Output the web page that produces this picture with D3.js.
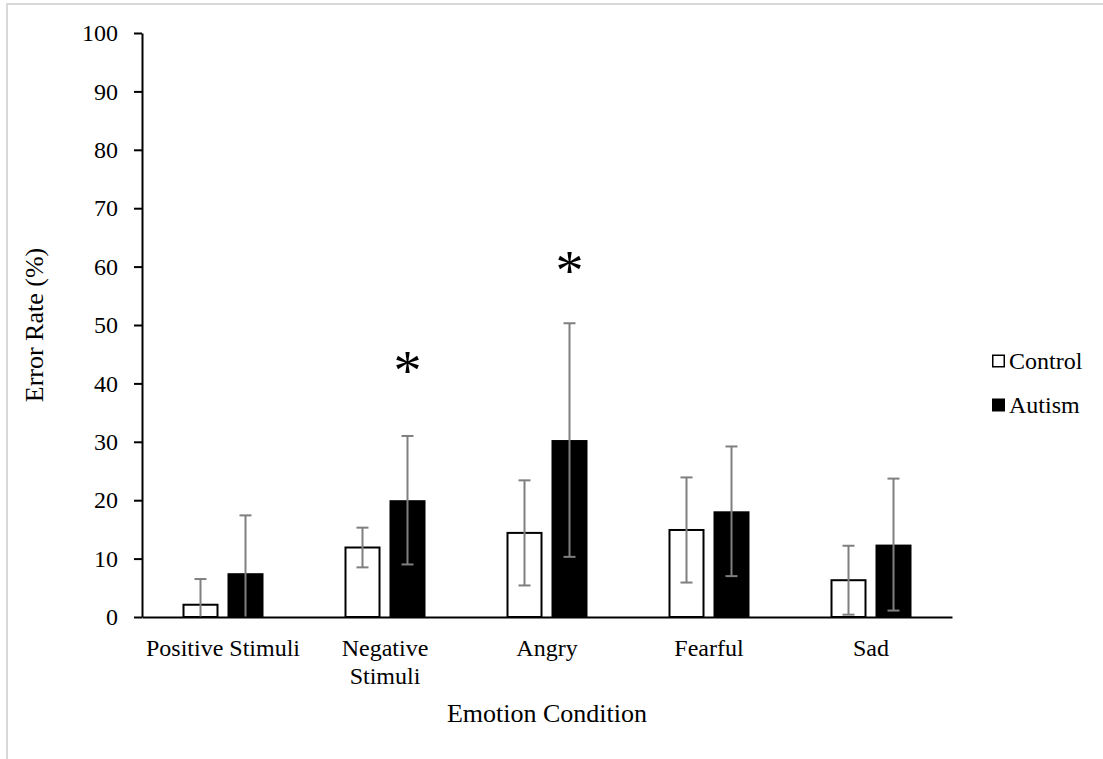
<!DOCTYPE html>
<html>
<head>
<meta charset="utf-8">
<script src="https://cdn.jsdelivr.net/npm/d3@7"></script>
<style>
  html, body { margin: 0; padding: 0; background: #fff; }
  svg { display: block; }
  text { font-family: "Liberation Serif", "Times New Roman", serif; fill: #000; }
</style>
</head>
<body>
<svg id="chart" width="1103" height="759"></svg>
<script>
const categories = ["Positive Stimuli", "Negative Stimuli", "Angry", "Fearful", "Sad"];
const categoryLines = [["Positive Stimuli"], ["Negative", "Stimuli"], ["Angry"], ["Fearful"], ["Sad"]];
const groups = ["Control", "Autism"];
const controlMeans = [2.1, 11.9, 14.4, 14.9, 6.3];
const controlSD = [4.4, 3.4, 9.0, 9.0, 5.9];
const autismMeans = [7.5, 20.0, 30.3, 18.1, 12.4];
const autismSD = [9.9, 11.0, 20.0, 11.1, 11.3];
const yTicks = [0, 10, 20, 30, 40, 50, 60, 70, 80, 90, 100];
const significance = [
  { category: "Negative Stimuli", group: "Autism", value: 43.2 },
  { category: "Angry", group: "Autism", value: 60.3 }
];

(function () {
const svg = d3.select("#chart");

// outer frame
svg.append("rect")
  .attr("x", 7).attr("y", 4).attr("width", 1200).attr("height", 900)
  .attr("fill", "none").attr("stroke", "#d9d9d9").attr("stroke-width", 2);

const pLeft = 142, pRight = 952, pTop = 33, pBottom = 617;

const x = d3.scaleBand().domain(categories).range([pLeft, pRight]).padding(0);
const xSub = d3.scaleBand().domain(groups).range([-45, 45]).paddingInner(0.2).paddingOuter(0.1);
const y = d3.scaleLinear().domain([0, 100]).range([pBottom, pTop]);

const series = {
  Control: categories.map((c, i) => ({ category: c, group: "Control", mean: controlMeans[i], sd: controlSD[i] })),
  Autism: categories.map((c, i) => ({ category: c, group: "Autism", mean: autismMeans[i], sd: autismSD[i] }))
};
const all = series.Control.concat(series.Autism);

// bars
const bx = d => x(d.category) + x.bandwidth() / 2 + xSub(d.group);
svg.append("g").selectAll("rect").data(all).join("rect")
  .attr("x", d => bx(d) + (d.group === "Control" ? 1 : 0))
  .attr("y", d => y(d.mean))
  .attr("width", d => xSub.bandwidth() - (d.group === "Control" ? 2 : 0))
  .attr("height", d => y(0) - y(d.mean))
  .attr("fill", d => d.group === "Control" ? "#fff" : "#000")
  .attr("stroke", "#000")
  .attr("stroke-width", d => d.group === "Control" ? 2 : 0);

// error bars
const eg = svg.append("g").attr("stroke", "#7f7f7f").attr("stroke-width", 2).attr("fill", "none");
const cx = d => bx(d) + xSub.bandwidth() / 2;
eg.selectAll("line.v").data(all).join("line").attr("class", "v")
  .attr("x1", cx).attr("x2", cx)
  .attr("y1", d => y(Math.max(0, d.mean - d.sd)))
  .attr("y2", d => y(d.mean + d.sd));
eg.selectAll("line.top").data(all).join("line").attr("class", "top")
  .attr("x1", d => cx(d) - 6).attr("x2", d => cx(d) + 6)
  .attr("y1", d => y(d.mean + d.sd)).attr("y2", d => y(d.mean + d.sd));
eg.selectAll("line.bot").data(all.filter(d => d.mean - d.sd > 0)).join("line").attr("class", "bot")
  .attr("x1", d => cx(d) - 6).attr("x2", d => cx(d) + 6)
  .attr("y1", d => y(d.mean - d.sd)).attr("y2", d => y(d.mean - d.sd));

// y axis
const yAxis = svg.append("g").attr("transform", `translate(${pLeft},0)`)
  .call(d3.axisLeft(y).tickValues(yTicks).tickSize(8).tickPadding(16).tickSizeOuter(0));
yAxis.select(".domain").attr("stroke", "#000").attr("stroke-width", 2);
yAxis.selectAll(".tick line").attr("stroke", "#000").attr("stroke-width", 2);
yAxis.selectAll(".tick text").attr("font-size", 24).attr("font-family", "Liberation Serif").attr("fill", "#000");

// x axis
const xAxis = svg.append("g").attr("transform", `translate(0,${pBottom})`)
  .call(d3.axisBottom(x).tickSize(0).tickSizeOuter(0).tickFormat(""));
xAxis.select(".domain").attr("stroke", "#000").attr("stroke-width", 2);
xAxis.selectAll(".tick").each(function(d, i) {
  const t = d3.select(this).select("text")
    .attr("font-size", 24).attr("font-family", "Liberation Serif").attr("fill", "#000")
    .attr("y", 0).attr("dy", null);
  categoryLines[i].forEach((line, k) => {
    t.append("tspan").attr("x", 0).attr("y", 39 + k * 28).text(line);
  });
});

// significance stars
svg.append("g").selectAll("text").data(significance).join("text")
  .attr("x", d => x(d.category) + x.bandwidth() / 2 + xSub(d.group) + xSub.bandwidth() / 2)
  .attr("y", d => y(d.value) + 25)
  .attr("text-anchor", "middle")
  .attr("font-size", 56)
  .text("*");

// axis titles
svg.append("text")
  .attr("x", (pLeft + pRight) / 2).attr("y", 722)
  .attr("text-anchor", "middle").attr("font-size", 26)
  .text("Emotion Condition");
svg.append("text")
  .attr("transform", `translate(43,${(pTop + pBottom) / 2}) rotate(-90)`)
  .attr("text-anchor", "middle").attr("font-size", 26)
  .text("Error Rate (%)");

// legend
const legend = svg.append("g").attr("transform", "translate(992,0)");
const legendY = { Control: 361, Autism: 405 };
groups.forEach(g => {
  legend.append("rect")
    .attr("x", g === "Control" ? 0.75 : 0).attr("y", legendY[g] - 6.5 + (g === "Control" ? 0.75 : 0))
    .attr("width", g === "Control" ? 11.5 : 13).attr("height", g === "Control" ? 11.5 : 13)
    .attr("fill", g === "Control" ? "#fff" : "#000")
    .attr("stroke", "#000").attr("stroke-width", g === "Control" ? 1.5 : 0);
  legend.append("text")
    .attr("x", 17).attr("y", legendY[g] + 8)
    .attr("font-size", 24)
    .text(g);
});
})();
</script>
</body>
</html>
